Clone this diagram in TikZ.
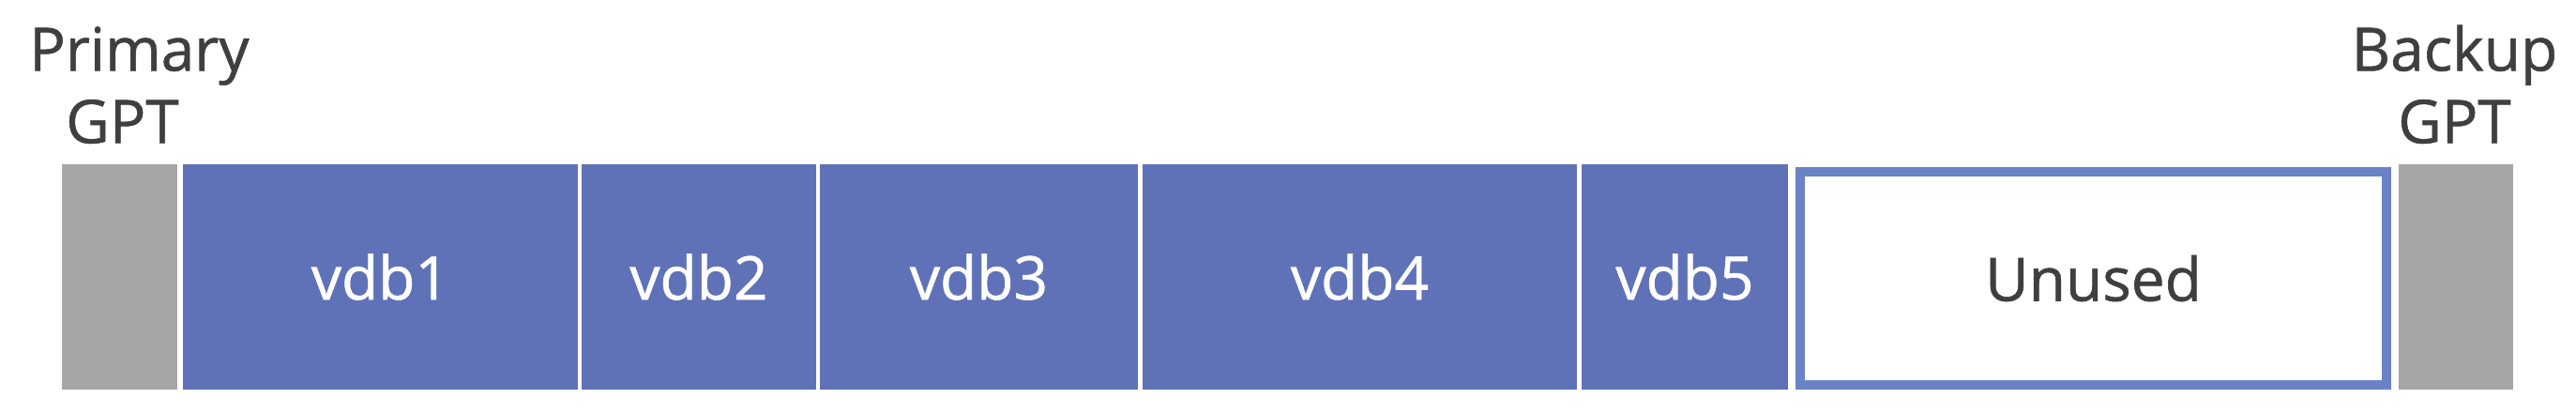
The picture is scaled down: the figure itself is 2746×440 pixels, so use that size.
\documentclass[tikz,border=0pt]{standalone}
\usepackage{fontspec}
\setmainfont{Open Sans}[BoldFont={Open Sans}, BoldFeatures={FakeBold=0.9}]
\definecolor{partblue}{HTML}{5F72B8}
\definecolor{edgeblue}{HTML}{6A83C6}
\definecolor{gptgray}{HTML}{A6A6A6}
\definecolor{labelgray}{HTML}{3F3F3F}
\tikzset{
  part/.style={anchor=north west, inner sep=0pt, outer sep=0pt, fill=partblue,
    text=white, font=\fontsize{16pt}{19.25pt}\selectfont\bfseries, minimum height=60pt},
  gpt/.style={anchor=north west, inner sep=0pt, outer sep=0pt, fill=gptgray,
    minimum height=60pt},
  unusedbox/.style={anchor=north west, inner sep=0pt, outer sep=0pt, draw=edgeblue,
    line width=2.5pt, fill=white, text=labelgray,
    font=\fontsize{16pt}{19.25pt}\selectfont\bfseries},
  toplabel/.style={anchor=south, inner sep=0pt, outer sep=0pt, align=center,
    text=labelgray, font=\fontsize{16pt}{19.25pt}\selectfont\bfseries}
}
\begin{document}
\begin{tikzpicture}[x=0.25pt, y=-0.25pt]
\useasboundingbox (0,0) rectangle (2746,440);
% partitions (pixel coordinates)
\node[gpt, minimum width=30.75pt] (g1) at (66,175) {};
\node[part, minimum width=105.25pt] (v1) at (195,175) {vdb1};
\node[part, minimum width=62.5pt] (v2) at (620,175) {vdb2};
\node[part, minimum width=84.75pt] (v3) at (874,175) {vdb3};
\node[part, minimum width=115.75pt] (v4) at (1218,175) {vdb4};
\node[part, minimum width=55pt] (v5) at (1686,175) {vdb5};
\node[unusedbox, minimum width=156.25pt, minimum height=56.75pt] (un) at (1919,183) {Unused};
\node[gpt, minimum width=30.5pt] (g2) at (2557,175) {};
% labels
\node[toplabel] (lp) at (148.5,153) {Primary\\GPT\hspace*{9pt}};
\node[toplabel] (lb) at (2616.5,153) {Backup\\GPT};
\end{tikzpicture}
\end{document}
